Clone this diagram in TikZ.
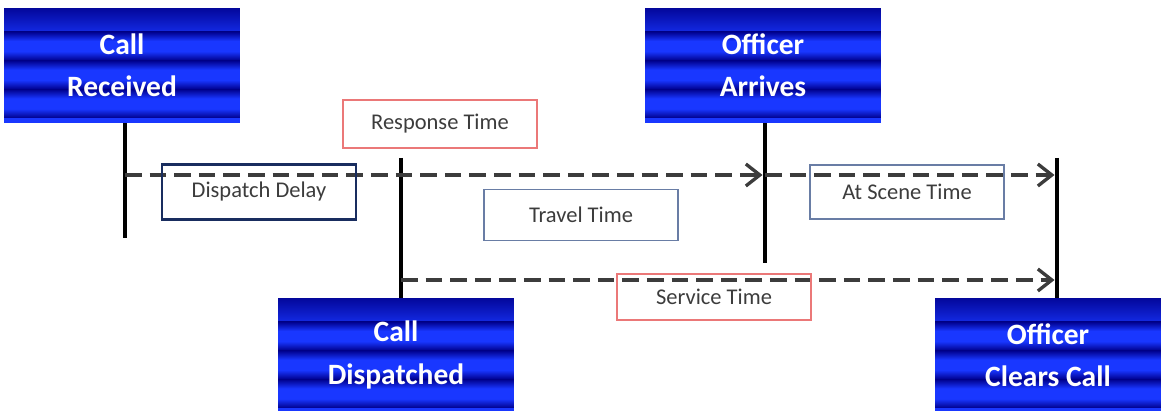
\documentclass[tikz,border=0pt]{standalone}
\usepackage{fontspec}
\setmainfont{Carlito}
\usepackage{xcolor}
\usepackage{tikz}
\usetikzlibrary{arrows.meta,positioning}

\definecolor{stripedark}{RGB}{0,0,140}
\definecolor{stripelight}{RGB}{25,55,255}
\definecolor{labelred}{RGB}{235,120,120}
\definecolor{labelnavy}{RGB}{25,45,95}
\definecolor{labelslate}{RGB}{105,125,165}
\definecolor{labeltext}{RGB}{60,60,60}
\definecolor{spangray}{RGB}{60,60,60}

\pgfdeclareverticalshading{bandshade}{100bp}{color(0bp)=(stripedark); color(25bp)=(stripedark);
  color(41bp)=(stripelight); color(59bp)=(stripelight); color(75bp)=(stripedark); color(100bp)=(stripedark)}

\begin{document}
\begin{tikzpicture}[
  x=0.02cm, y=-0.02cm,
  event/.style={rectangle, fill=stripelight, text=white, align=center, inner sep=0pt,
    font=\bfseries\fontsize{16.8}{24}\selectfont, minimum width=4.72cm, minimum height=2.3cm,
    path picture={
      \foreach \k in {0,...,3}
        \shade[shading=bandshade]
          ([yshift=-\k*0.575cm+0.1cm]path picture bounding box.north west) rectangle
          ([yshift=-\k*0.575cm-0.475cm]path picture bounding box.north east);
      }},
  phase/.style={rectangle, draw, align=center, inner sep=0pt, text=labeltext,
    font=\fontsize{12.8}{15}\selectfont, minimum width=3.88cm},
  stem/.style={line width=2.8pt, black},
  span/.style={-{Straight Barb[length=2.8mm,width=4.4mm]}, line width=1.9pt, spangray, dash pattern=on 9.5pt off 4.5pt}
]
\useasboundingbox (0,0) rectangle (1163,411);

\node[event] (rec) at (122,65.5) {Call\\Received};
\node[event] (arr) at (763,65.5) {Officer\\Arrives};
\node[event, minimum height=2.28cm] (disp) at (396,355) {Call\\Dispatched};
\node[event, minimum width=4.52cm, minimum height=2.28cm] (clr) at (1048,355) {Officer\\Clears Call};

\coordinate (recEnd) at (125,238);
\coordinate (dispTop) at (401,158);
\coordinate (arrEnd) at (765,263);
\coordinate (clrTop) at (1057,158);
\coordinate (upper) at (0,175);
\coordinate (lower) at (0,280);

\draw[stem] (rec.south -| recEnd) -- (recEnd);
\draw[stem] (dispTop) -- (disp.north -| dispTop);
\draw[stem] (arr.south -| arrEnd) -- (arrEnd);
\draw[stem] (clrTop) -- (clr.north -| clrTop);

\draw[span, shorten >=1.4pt] (recEnd |- upper) -- (arrEnd |- upper);
\draw[span, shorten >=1.4pt] (arrEnd |- upper) -- (clrTop |- upper);
\draw[span, shorten >=1.4pt] (dispTop |- lower) -- (clrTop |- lower);

\node[phase, draw=labelred, line width=0.8pt, minimum height=0.96cm] (resp) at (440,124) {Response Time};
\node[phase, draw=labelnavy, line width=1.6pt, minimum height=1.1cm] (delay) at (259,192) {Dispatch Delay};
\node[phase, draw=labelslate, line width=0.9pt, minimum height=1.02cm] (travel) at (581,215) {Travel Time};
\node[phase, draw=labelslate, line width=0.9pt, minimum height=1.08cm] (scene) at (907,192) {At Scene Time};
\node[phase, draw=labelred, line width=0.8pt, minimum height=0.92cm] (service) at (714,297) {Service Time};
\end{tikzpicture}
\end{document}
